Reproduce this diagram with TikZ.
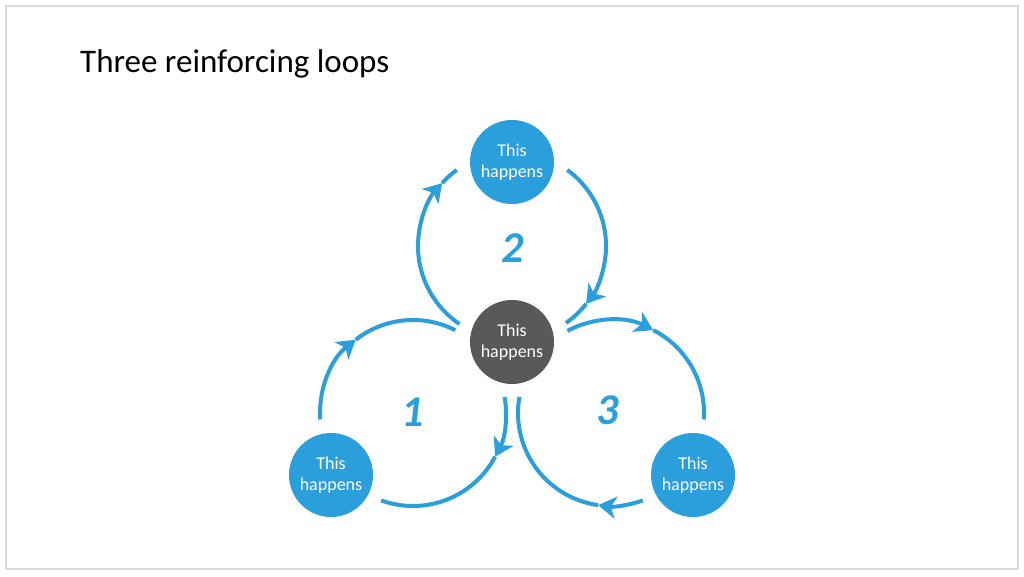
\documentclass[tikz,border=0pt]{standalone}
\usepackage{fontspec}
\setmainfont{Carlito}
\usetikzlibrary{arrows.meta}
\definecolor{loopblue}{HTML}{2B9FDC}
\definecolor{hubgray}{HTML}{595959}
\definecolor{framegray}{HTML}{D9D9D9}

\begin{document}
\begin{tikzpicture}[x=1pt, y=1pt,
    bubble/.style={circle, minimum size=84pt, inner sep=0pt, fill=loopblue,
      text=white, align=center, font=\fontsize{18}{20.5}\selectfont},
    looparc/.style={loopblue, line width=4pt},
    looptip/.style={looparc, -{Stealth[length=18pt, width=22pt, inset=5pt]}},
    loopnum/.style={loopblue, font=\fontsize{44}{44}\selectfont\bfseries\itshape}]
    \useasboundingbox (0,0) rectangle (1024,576);
    % Rahmen
    \draw[framegray, line width=1.5pt] (6,7) rectangle (1018,570);
    \node[anchor=base west, inner sep=0pt, font=\fontsize{33}{40}\selectfont] (title) at (80,503) {Three reinforcing loops};
    % Knoten
    \node[bubble] (top) at (512,414) {This\\happens};
    \node[bubble, fill=hubgray] (hub) at (512,234) {This\\happens};
    \node[bubble] (left) at (331,101) {This\\happens};
    \node[bubble] (right) at (693,101) {This\\happens};
    % Mittelpunkte der Schleifen
    \coordinate (c2) at (512,330);
    \coordinate (c1) at (413,163);
    \coordinate (c3) at (611,163);
    % Schleife 2
    \draw[looptip] ([shift={(236:94)}]c2) arc[start angle=236, end angle=138, radius=94];
    \draw[looparc] ([shift={(138:94)}]c2) arc[start angle=138, end angle=126, radius=94];
    \draw[looptip] ([shift={(54:94)}]c2) arc[start angle=54, end angle=-38, radius=94];
    \draw[looparc] ([shift={(-38:94)}]c2) arc[start angle=-38, end angle=-55, radius=94];
    \node[loopnum] (n2) at (513,328) {2};
    % Schleife 1
    \draw[looptip] ([shift={(184:93)}]c1) arc[start angle=184, end angle=128, radius=93];
    \draw[looparc] ([shift={(128:93)}]c1) arc[start angle=128, end angle=63, radius=93];
    \draw[looptip] ([shift={(10:93)}]c1) arc[start angle=10, end angle=-28, radius=93];
    \draw[looparc] ([shift={(-28:93)}]c1) arc[start angle=-28, end angle=-110, radius=93];
    \node[loopnum] (n1) at (413,164) {1};
    % Schleife 3
    \draw[looptip] ([shift={(118:93)}]c3) arc[start angle=118, end angle=63, radius=93];
    \draw[looparc] ([shift={(63:93)}]c3) arc[start angle=63, end angle=-4, radius=93];
    \draw[looptip] ([shift={(290:93)}]c3) arc[start angle=290, end angle=262, radius=93];
    \draw[looparc] ([shift={(262:93)}]c3) arc[start angle=262, end angle=170, radius=93];
    \node[loopnum] (n3) at (608,166) {3};
\end{tikzpicture}
\end{document}
